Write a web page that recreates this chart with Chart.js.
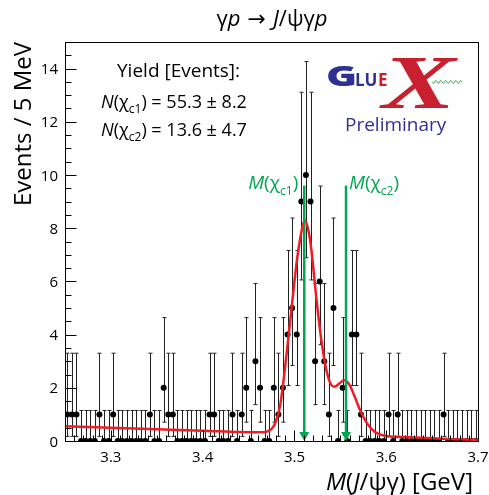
<!DOCTYPE html>
<html><head><meta charset="utf-8">
<script src="https://cdn.jsdelivr.net/npm/chart.js@4.4.1/dist/chart.umd.min.js"></script>
<style>html,body{margin:0;padding:0;background:#fff;}#wrap{width:489px;height:495px;}</style>
</head><body><div id="wrap"><canvas id="c" width="489" height="495"></canvas></div>
<script>
// ---- data ----
const binLow = 3.25;
const binWidth = 0.005;
const counts = [
  1,1,1,0,0,0,0,1,0,0,
  1,0,0,0,0,0,0,0,1,0,
  0,2,1,1,0,0,0,0,0,0,
  0,1,1,0,0,0,1,0,1,2,
  0,3,2,0,0,2,1,2,4,5,
  4,9,10,9,3,6,3,1,5,0,
  2,0,4,4,1,0,0,0,0,0,
  1,0,1,0,0,0,0,0,0,0,
  0,0,1,0,0,0,0,0,0,0
];
// asymmetric Poisson error bars, indexed by bin count
const errLowByCount  = [0, 0.827, 1.292, 1.633, 1.914, 2.160, 2.380, 2.581, 2.768, 2.945, 3.109];
const errHighByCount = [1.148, 2.300, 2.638, 2.918, 3.163, 3.382, 3.584, 3.770, 3.945, 4.110, 4.267];
// fit curve
const fitMass = [3.250,3.300,3.350,3.400,3.440,3.462,3.468,3.4715,3.4751,3.4787,3.4842,3.4894,3.4951,3.5024,3.5070,3.5111,3.5150,3.5184,3.5238,3.5293,3.5348,3.5402,3.5438,3.5492,3.5540,3.5601,3.5656,3.5710,3.5784,3.5874,3.6001,3.6256,3.650,3.675,3.700];
const fitValue = [0.55,0.50,0.44,0.39,0.34,0.33,0.34,0.37,0.45,0.65,1.29,2.65,4.42,6.70,7.75,8.30,7.95,7.20,5.40,3.80,2.67,2.10,2.04,2.17,2.28,2.10,1.67,1.20,0.70,0.35,0.19,0.14,0.10,0.07,0.04];
const xTicks = [3.3, 3.4, 3.5, 3.6, 3.7];
const xTickLabels = ['3.3', '3.4', '3.5', '3.6', '3.7'];
const yTicks = [0, 2, 4, 6, 8, 10, 12, 14];
const yTickLabels = ['0', '2', '4', '6', '8', '10', '12', '14'];
const markerMasses = [3.5107, 3.5562];
const markerSubs = ['c1', 'c2'];
const yieldSubs = ['c1', 'c2'];
const yieldTexts = [' = 55.3 \u00b1 8.2', ' = 13.6 \u00b1 4.7'];

const FAM = "'Open Sans', 'Noto Sans', sans-serif";
const GREEN = '#00a651';

function fontFor(s, size) {
  if (s === 'i') return `italic ${size}px ${FAM}`;
  if (s === 's') return `${Math.round(size * 0.64)}px ${FAM}`;
  if (s === 'a') return `${size}px 'DejaVu Sans', sans-serif`;
  return `${size}px ${FAM}`;
}
function drawRuns(ctx, parts, x, y, align, size) {
  const w = [];
  let tot = 0;
  parts.forEach(([t, s]) => { ctx.font = fontFor(s, size); const m = ctx.measureText(t).width; w.push(m); tot += m; });
  let cx = align === 'center' ? x - tot / 2 : align === 'right' ? x - tot : x;
  ctx.textAlign = 'left';
  ctx.textBaseline = 'alphabetic';
  parts.forEach(([t, s], k) => {
    ctx.font = fontFor(s, size);
    ctx.fillText(t, cx, y + (s === 's' ? size * 0.3 : 0));
    cx += w[k];
  });
}

const points = counts.map((n, i) => ({ x: binLow + (i + 0.5) * binWidth, y: n }));
const fitPoints = fitMass.map((m, i) => ({ x: m, y: fitValue[i] }));

const deco = {
  id: 'deco',
  beforeDatasetsDraw(chart) {
    const { ctx, scales: { x, y } } = chart;
    ctx.save();
    ctx.strokeStyle = '#222';
    ctx.lineWidth = 1;
    counts.forEach((n, i) => {
      const px = Math.round(x.getPixelForValue(binLow + (i + 0.5) * binWidth)) + 0.5;
      const lo = y.getPixelForValue(n - errLowByCount[n]);
      const hi = y.getPixelForValue(n + errHighByCount[n]);
      const py = y.getPixelForValue(n);
      const hl = x.getPixelForValue(binLow + i * binWidth);
      const hr = x.getPixelForValue(binLow + (i + 1) * binWidth);
      ctx.beginPath();
      ctx.moveTo(px, lo); ctx.lineTo(px, hi);
      ctx.moveTo(hl, py); ctx.lineTo(hr, py);
      ctx.moveTo(px - 2, hi); ctx.lineTo(px + 2, hi);
      if (n > 0) { ctx.moveTo(px - 2, lo); ctx.lineTo(px + 2, lo); }
      ctx.stroke();
    });
    ctx.restore();
  },
  afterDatasetsDraw(chart) {
    const { ctx, scales: { x, y }, chartArea: a } = chart;
    ctx.save();
    // arrows at the chi_c masses
    markerMasses.forEach((m, k) => {
      const px = x.getPixelForValue(m);
      const top = y.getPixelForValue(9.6);
      const bot = y.getPixelForValue(0);
      ctx.strokeStyle = GREEN; ctx.fillStyle = GREEN; ctx.lineWidth = 2.5;
      ctx.beginPath(); ctx.moveTo(px, top); ctx.lineTo(px, bot - 7); ctx.stroke();
      ctx.beginPath(); ctx.moveTo(px - 5, bot - 9); ctx.lineTo(px + 5, bot - 9); ctx.lineTo(px, bot); ctx.closePath(); ctx.fill();
      const parts = [['M', 'i'], ['(\u03c7', 'n'], [markerSubs[k], 's'], [')', 'n']];
      drawRuns(ctx, parts, k === 0 ? px - 6 : px + 3, 189, k === 0 ? 'right' : 'left', 19);
    });
    // frame
    ctx.strokeStyle = '#000'; ctx.lineWidth = 1;
    ctx.strokeRect(Math.round(a.left) + 0.5, Math.round(a.top) + 0.5, Math.round(a.right - a.left), Math.round(a.bottom - a.top));
    // ticks
    ctx.beginPath();
    const b = Math.round(a.bottom) + 0.5, l = Math.round(a.left) + 0.5;
    for (let v = 3.26; v < 3.7 - 1e-6; v += 0.01) {
      const px = Math.round(x.getPixelForValue(v)) + 0.5;
      const major = xTicks.some(t => Math.abs(t - v) < 1e-6);
      ctx.moveTo(px, b); ctx.lineTo(px, b - (major ? 11 : 6));
    }
    for (let v = 0.5; v < 15; v += 0.5) {
      const py = Math.round(y.getPixelForValue(v)) + 0.5;
      const major = yTicks.includes(v);
      ctx.moveTo(l, py); ctx.lineTo(l + (major ? 11 : 6), py);
    }
    ctx.stroke();
    // tick labels
    ctx.fillStyle = '#000';
    ctx.font = `15px ${FAM}`;
    ctx.textAlign = 'center'; ctx.textBaseline = 'alphabetic';
    xTicks.forEach((t, k) => ctx.fillText(xTickLabels[k], x.getPixelForValue(t), 462));
    ctx.textAlign = 'right';
    yTicks.forEach((t, k) => ctx.fillText(yTickLabels[k], 58, y.getPixelForValue(t) + 5.5));
    // yields
    ctx.font = `19px ${FAM}`;
    ctx.textAlign = 'left';
    ctx.fillText('Yield [Events]:', 117, 77);
    yieldSubs.forEach((s, k) => {
      drawRuns(ctx, [['N', 'i'], ['(\u03c7', 'n'], [s, 's'], [')', 'n'], [yieldTexts[k], 'n']], 101, 108 + k * 28, 'left', 18);
    });
    // logo
    ctx.fillStyle = '#2e3192';
    ctx.save(); ctx.translate(326, 86); ctx.scale(1.45, 1);
    ctx.font = `800 29px ${FAM}`; ctx.fillText('G', 0, 0); ctx.restore();
    ctx.font = `bold 17px ${FAM}`;
    ctx.fillText('LU', 355, 86);
    ctx.fillStyle = '#c8202f';
    ctx.fillText('E', 378, 86);
    ctx.save(); ctx.translate(382, 108); ctx.scale(1.45, 1);
    ctx.font = "italic bold 76px 'Liberation Serif', serif"; ctx.fillText('X', 0, 0); ctx.restore();
    ctx.strokeStyle = '#3aa648'; ctx.lineWidth = 1;
    ctx.beginPath();
    for (let t = 0; t <= 30; t += 0.5) {
      const px = 432 + t, py = 82 + 1.5 * Math.sin(t / 5 * 2 * Math.PI);
      if (t === 0) ctx.moveTo(px, py); else ctx.lineTo(px, py);
    }
    ctx.stroke();
    ctx.fillStyle = '#2e3192';
    ctx.font = `19px ${FAM}`;
    ctx.fillText('Preliminary', 345, 131);
    ctx.restore();
  },
  afterDraw(chart) {
    const { ctx } = chart;
    ctx.save();
    ctx.fillStyle = '#000';
    drawRuns(ctx, [['\u03b3', 'n'], ['p', 'i'], [' \u2192 ', 'a'], ['J', 'i'], ['/\u03c8\u03b3', 'n'], ['p', 'i']], 272, 26, 'center', 22);
    drawRuns(ctx, [['M', 'i'], ['(', 'n'], ['J', 'i'], ['/\u03c8\u03b3) [GeV]', 'n']], 473, 490, 'right', 24);
    ctx.translate(31, 42); ctx.rotate(-Math.PI / 2);
    ctx.font = `24px ${FAM}`; ctx.textAlign = 'right'; ctx.textBaseline = 'alphabetic';
    ctx.fillText('Events / 5 MeV', 0, 0);
    ctx.restore();
  }
};

new Chart(document.getElementById('c'), {
  type: 'scatter',
  data: {
    datasets: [
      { label: 'fit', data: fitPoints, showLine: true, borderColor: '#ee1c25', borderWidth: 2.5, pointRadius: 0, cubicInterpolationMode: 'monotone', order: 0 },
      { label: 'data', data: points, showLine: false, backgroundColor: '#000', borderColor: '#000', pointRadius: 3, pointBorderWidth: 0, order: 1 }
    ]
  },
  options: {
    responsive: false, animation: false, devicePixelRatio: 1,
    layout: { padding: { left: 65, right: 11, top: 42, bottom: 54 } },
    plugins: { legend: { display: false }, tooltip: { enabled: false } },
    scales: {
      x: { type: 'linear', min: 3.25, max: 3.7, display: false },
      y: { type: 'linear', min: 0, max: 15, display: false }
    }
  },
  plugins: [deco]
});
</script>
</body></html>
